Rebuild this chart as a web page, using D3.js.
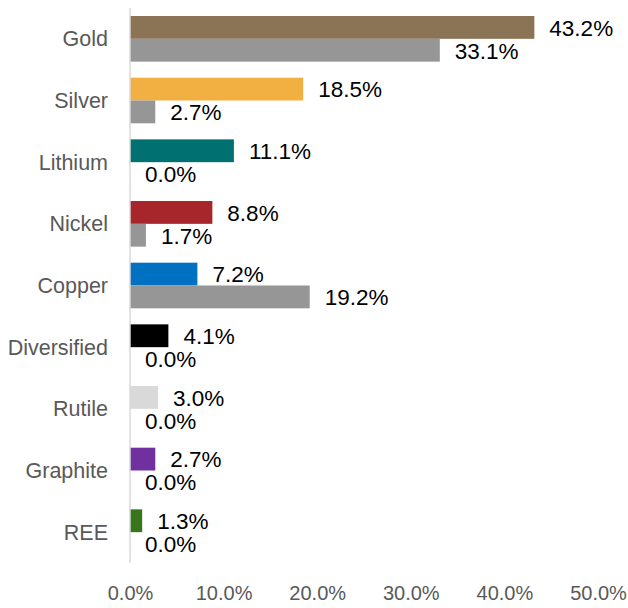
<!DOCTYPE html>
<html><head><meta charset="utf-8">
<script src="https://cdn.jsdelivr.net/npm/d3@7"></script>
<style>body{margin:0;background:#fff}svg{display:block}</style>
</head><body>
<svg id="c" width="628" height="608"></svg>
<script>
const categories = ["Gold","Silver","Lithium","Nickel","Copper","Diversified","Rutile","Graphite","REE"];
const seriesA = [43.2,18.5,11.1,8.8,7.2,4.1,3.0,2.7,1.3];
const seriesB = [33.1,2.7,0.0,1.7,19.2,0.0,0.0,0.0,0.0];
const colorsA = ["#8B7355","#F2AF42","#007070","#A6262B","#0070C0","#000000","#D9D9D9","#7030A0","#38761D"];
const colorB = "#969696";
const tickValues = [0,10,20,30,40,50];

const svg = d3.select("#c");
const font = "'Liberation Sans', Arial, sans-serif";
const x = d3.scaleLinear().domain([0,50]).range([130,598]);
const y = d3.scaleBand().domain(categories).range([8,563]).paddingInner(0.26).paddingOuter(0.13);
const sub = d3.scaleBand().domain(["a","b"]).range([0,y.bandwidth()]);

const rows = categories.map((c,i)=>({c, a:seriesA[i], b:seriesB[i], col:colorsA[i]}));

const g = svg.append("g");
rows.forEach(r=>{
  const y0 = y(r.c);
  [["a",r.a,r.col],["b",r.b,colorB]].forEach(([k,v,col])=>{
    g.append("rect").attr("x",x(0)).attr("y",y0+sub(k))
      .attr("width",x(v)-x(0)).attr("height",sub.bandwidth()).attr("fill",col);
    g.append("text").attr("x",x(v)+15).attr("y",y0+sub(k)+sub.bandwidth()/2+0.5)
      .attr("dy","0.35em").attr("font-family",font).attr("font-size",22.5)
      .attr("fill","#000").text(v.toFixed(1)+"%");
  });
});

// axis line
svg.append("line").attr("x1",x(0)).attr("x2",x(0)).attr("y1",8).attr("y2",563)
  .attr("stroke","#d9d9d9").attr("stroke-width",1.5);

// category labels
const yAxis = d3.axisLeft(y).tickSize(0).tickPadding(0);
const ya = svg.append("g").attr("transform","translate(108,0)").call(yAxis);
ya.select(".domain").remove();
ya.selectAll("text").attr("font-family",font).attr("font-size",21.5).attr("fill","#595959").attr("dy","0.35em");

// x tick labels
const xAxis = d3.axisBottom(x).tickValues(tickValues).tickSize(0).tickPadding(0).tickFormat(d=>d.toFixed(1)+"%");
const xa = svg.append("g").attr("transform","translate(0,586)").call(xAxis);
xa.select(".domain").remove();
xa.selectAll("text").attr("font-family",font).attr("font-size",20).attr("fill","#595959").attr("dy","0.35em").attr("y",7);
</script>
</body></html>
